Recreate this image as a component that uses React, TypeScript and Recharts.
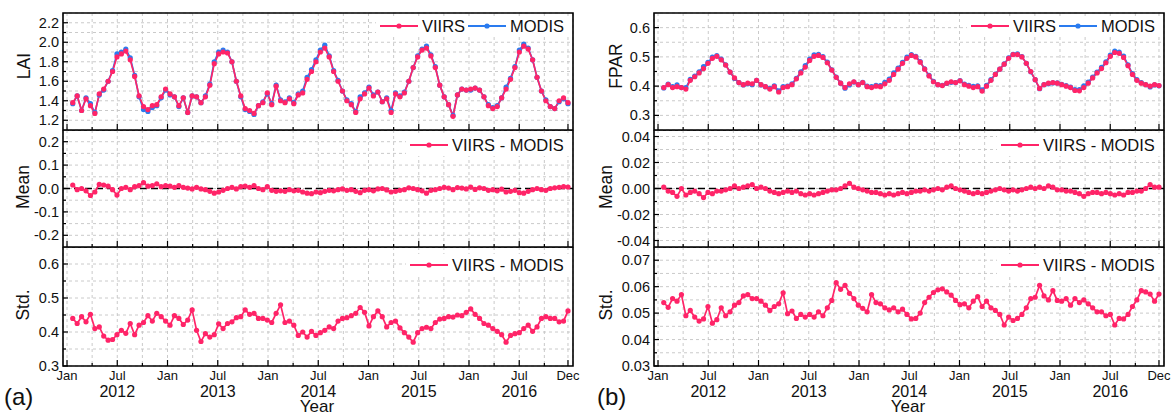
import React from 'react';
import { LineChart, Line, XAxis, YAxis, CartesianGrid, ReferenceLine, ReferenceArea } from 'recharts';

// ---------------- data (16-day steps, from late Jan 2012 to Dec 2016) ----------------
const LAI_VIIRS = [
  1.38, 1.45, 1.30, 1.42, 1.35, 1.27, 1.47, 1.52, 1.60, 1.70,
  1.85, 1.88, 1.91, 1.82, 1.65, 1.45, 1.34, 1.31, 1.35, 1.36,
  1.44, 1.52, 1.47, 1.44, 1.35, 1.43, 1.28, 1.45, 1.44, 1.38,
  1.44, 1.56, 1.78, 1.88, 1.90, 1.89, 1.80, 1.60, 1.45, 1.32,
  1.30, 1.27, 1.35, 1.38, 1.48, 1.36, 1.55, 1.40, 1.38, 1.42,
  1.37, 1.46, 1.48, 1.62, 1.70, 1.80, 1.90, 1.94, 1.85, 1.70,
  1.60, 1.50, 1.40, 1.36, 1.28, 1.42, 1.47, 1.53, 1.45, 1.49,
  1.39, 1.42, 1.28, 1.47, 1.44, 1.48, 1.60, 1.74, 1.85, 1.92,
  1.94, 1.86, 1.74, 1.56, 1.44, 1.36, 1.24, 1.46, 1.52, 1.51,
  1.52, 1.53, 1.51, 1.44, 1.35, 1.32, 1.34, 1.43, 1.52, 1.62,
  1.74, 1.90, 1.96, 1.93, 1.82, 1.64, 1.50, 1.40, 1.34, 1.32,
  1.40, 1.43, 1.38,
];
const LAI_MODIS = [
  1.37, 1.45, 1.30, 1.43, 1.37, 1.28, 1.46, 1.51, 1.60, 1.71,
  1.88, 1.90, 1.93, 1.84, 1.66, 1.44, 1.31, 1.29, 1.33, 1.35,
  1.43, 1.51, 1.46, 1.44, 1.34, 1.43, 1.28, 1.45, 1.44, 1.38,
  1.45, 1.57, 1.80, 1.90, 1.92, 1.90, 1.80, 1.60, 1.44, 1.31,
  1.29, 1.26, 1.35, 1.39, 1.47, 1.37, 1.56, 1.41, 1.39, 1.43,
  1.38, 1.47, 1.50, 1.64, 1.72, 1.82, 1.92, 1.97, 1.86, 1.71,
  1.61, 1.50, 1.41, 1.37, 1.29, 1.44, 1.48, 1.54, 1.46, 1.49,
  1.39, 1.43, 1.30, 1.48, 1.45, 1.49, 1.60, 1.74, 1.86, 1.93,
  1.96, 1.87, 1.75, 1.56, 1.44, 1.36, 1.25, 1.46, 1.52, 1.51,
  1.51, 1.53, 1.51, 1.44, 1.36, 1.33, 1.35, 1.43, 1.54, 1.63,
  1.75, 1.92, 1.98, 1.94, 1.82, 1.64, 1.50, 1.41, 1.34, 1.32,
  1.39, 1.42, 1.37,
];
const LAI_MEAN = [
  0.015, -0.005, 0.0, -0.01, -0.03, -0.015, 0.018, 0.015, 0.01, -0.005,
  -0.028, 0.0, 0.005, -0.005, 0.008, 0.012, 0.025, 0.01, 0.012, 0.02,
  0.008, 0.012, 0.01, 0.005, 0.012, 0.005, 0.002, -0.002, 0.005, -0.002,
  -0.005, -0.012, -0.02, -0.015, -0.008, 0.0, 0.005, -0.002, 0.008, 0.01,
  0.005, 0.012, 0.0, -0.005, 0.008, -0.008, -0.012, -0.01, -0.012, -0.005,
  -0.01, -0.008, -0.015, -0.02, -0.022, -0.015, -0.018, -0.012, -0.008, -0.01,
  -0.005, -0.002, -0.008, -0.005, -0.012, -0.018, -0.008, -0.005, -0.01, -0.002,
  0.0, -0.006, -0.015, -0.012, -0.008, -0.005, 0.003, 0.0, -0.005, -0.01,
  -0.02, -0.008, -0.005, 0.0, 0.005, 0.002, -0.005, 0.004, 0.002, -0.002,
  0.006, -0.004, 0.003, 0.0, -0.008, -0.005, -0.01, -0.003, -0.015, -0.012,
  -0.008, -0.018, -0.02, -0.012, -0.005, 0.0, -0.005, -0.008, 0.0, 0.003,
  0.005, 0.008, 0.006,
];
const LAI_STD = [
  0.44, 0.425, 0.445, 0.43, 0.452, 0.41, 0.415, 0.388, 0.376, 0.378,
  0.392, 0.405, 0.396, 0.425, 0.392, 0.42, 0.428, 0.448, 0.432, 0.455,
  0.445, 0.432, 0.42, 0.448, 0.44, 0.422, 0.435, 0.465, 0.405, 0.372,
  0.395, 0.385, 0.392, 0.424, 0.41, 0.425, 0.43, 0.442, 0.445, 0.465,
  0.452, 0.455, 0.44, 0.44, 0.435, 0.428, 0.455, 0.48, 0.428, 0.432,
  0.42, 0.39, 0.4, 0.385, 0.402, 0.39, 0.398, 0.405, 0.415, 0.41,
  0.432, 0.44, 0.442, 0.448, 0.455, 0.472, 0.458, 0.418, 0.445, 0.462,
  0.445, 0.415, 0.428, 0.432, 0.412, 0.398, 0.385, 0.37, 0.398, 0.41,
  0.414, 0.41, 0.428, 0.438, 0.44, 0.445, 0.444, 0.45, 0.448, 0.458,
  0.468, 0.452, 0.44, 0.425, 0.42, 0.41, 0.402, 0.392, 0.37, 0.39,
  0.395, 0.398, 0.41, 0.42, 0.402, 0.415, 0.44, 0.445, 0.44, 0.44,
  0.43, 0.432, 0.462,
];
const FPAR_VIIRS = [
  0.395, 0.405, 0.395, 0.398, 0.395, 0.39, 0.42, 0.432, 0.445, 0.46,
  0.478, 0.495, 0.502, 0.49, 0.472, 0.448, 0.428, 0.412, 0.405, 0.41,
  0.408, 0.42, 0.405, 0.398, 0.39, 0.398, 0.38, 0.395, 0.398, 0.405,
  0.425, 0.445, 0.465, 0.488, 0.502, 0.505, 0.498, 0.48, 0.455, 0.43,
  0.41, 0.395, 0.408, 0.415, 0.405, 0.412, 0.398, 0.395, 0.4, 0.398,
  0.408, 0.42, 0.44, 0.458, 0.478, 0.495, 0.505, 0.5, 0.482, 0.458,
  0.435, 0.415, 0.405, 0.402, 0.41, 0.415, 0.412, 0.418, 0.405, 0.4,
  0.395, 0.398, 0.383, 0.4, 0.42, 0.44, 0.458, 0.475, 0.495, 0.508,
  0.508, 0.5, 0.478, 0.45, 0.422, 0.392, 0.405, 0.41, 0.412, 0.41,
  0.405, 0.4, 0.395, 0.385, 0.384, 0.395, 0.41, 0.428, 0.445, 0.46,
  0.48, 0.502, 0.515, 0.512, 0.498, 0.47, 0.44, 0.42, 0.41, 0.405,
  0.4, 0.405, 0.402,
];
const FPAR_MODIS = [
  0.394, 0.407, 0.398, 0.404, 0.395, 0.395, 0.423, 0.434, 0.449, 0.467,
  0.481, 0.499, 0.504, 0.492, 0.473, 0.448, 0.426, 0.412, 0.404, 0.408,
  0.405, 0.42, 0.404, 0.398, 0.392, 0.401, 0.384, 0.398, 0.4, 0.408,
  0.427, 0.449, 0.47, 0.492, 0.507, 0.509, 0.501, 0.482, 0.456, 0.431,
  0.41, 0.393, 0.404, 0.414, 0.405, 0.413, 0.4, 0.398, 0.403, 0.402,
  0.413, 0.424, 0.445, 0.462, 0.481, 0.499, 0.508, 0.502, 0.484, 0.459,
  0.437, 0.416, 0.405, 0.403, 0.409, 0.413, 0.412, 0.419, 0.407, 0.403,
  0.399, 0.401, 0.387, 0.403, 0.422, 0.441, 0.458, 0.476, 0.497, 0.509,
  0.51, 0.501, 0.478, 0.449, 0.422, 0.391, 0.405, 0.408, 0.411, 0.411,
  0.406, 0.402, 0.397, 0.388, 0.388, 0.401, 0.414, 0.431, 0.448, 0.464,
  0.483, 0.506, 0.52, 0.516, 0.503, 0.473, 0.443, 0.422, 0.412, 0.405,
  0.397, 0.404, 0.401,
];
const FPAR_MEAN = [
  0.001, -0.002, -0.003, -0.006, 0.0, -0.005, -0.003, -0.002, -0.004, -0.007,
  -0.003, -0.004, -0.002, -0.002, -0.001, 0.0, 0.002, 0.0, 0.001, 0.002,
  0.003, 0.0, 0.001, 0.0, -0.002, -0.003, -0.004, -0.003, -0.002, -0.003,
  -0.002, -0.004, -0.005, -0.004, -0.005, -0.004, -0.003, -0.002, -0.001, -0.001,
  0.0, 0.002, 0.004, 0.001, 0.0, -0.001, -0.002, -0.003, -0.003, -0.004,
  -0.005, -0.004, -0.005, -0.004, -0.003, -0.004, -0.003, -0.002, -0.002, -0.001,
  -0.002, -0.001, 0.0, -0.001, 0.001, 0.002, 0.0, -0.001, -0.002, -0.003,
  -0.004, -0.003, -0.004, -0.003, -0.002, -0.001, 0.0, -0.001, -0.002, -0.001,
  -0.002, -0.001, 0.0, 0.001, 0.0, 0.001, 0.0, 0.002, 0.001, -0.001,
  -0.001, -0.002, -0.002, -0.003, -0.004, -0.006, -0.004, -0.003, -0.003, -0.004,
  -0.003, -0.004, -0.005, -0.004, -0.005, -0.003, -0.003, -0.002, -0.002, 0.0,
  0.003, 0.001, 0.001,
];
const FPAR_STD = [
  0.054, 0.0522, 0.0555, 0.0545, 0.057, 0.049, 0.051, 0.0485, 0.047, 0.0478,
  0.0525, 0.0462, 0.0475, 0.052, 0.049, 0.0505, 0.053, 0.054, 0.0565, 0.057,
  0.0555, 0.0555, 0.0545, 0.053, 0.051, 0.0525, 0.0535, 0.0577, 0.0498, 0.0508,
  0.048, 0.0495, 0.0485, 0.0495, 0.0485, 0.0505, 0.049, 0.052, 0.0548, 0.0615,
  0.059, 0.0605, 0.0575, 0.0555, 0.053, 0.0518, 0.0505, 0.057, 0.054, 0.0535,
  0.052, 0.0512, 0.052, 0.0505, 0.0515, 0.0495, 0.0478, 0.048, 0.05, 0.054,
  0.056, 0.0578, 0.0588, 0.0592, 0.058, 0.0568, 0.0548, 0.0532, 0.0535, 0.052,
  0.0545, 0.0562, 0.0525, 0.0545, 0.052, 0.051, 0.0495, 0.0455, 0.0485, 0.0472,
  0.048, 0.0495, 0.052, 0.0555, 0.056, 0.0605, 0.0565, 0.055, 0.0585, 0.0548,
  0.0545, 0.0555, 0.053, 0.0555, 0.054, 0.055, 0.0535, 0.052, 0.0505, 0.0505,
  0.049, 0.0495, 0.0455, 0.048, 0.0478, 0.0495, 0.0525, 0.055, 0.0585, 0.058,
  0.0572, 0.0545, 0.0572,
];

// time axis (decimal year), one composite every ~16 days
const START_YEAR = 2012.057;
const STEP_YEAR = 0.044;
const DATES = LAI_VIIRS.map((_, i) => START_YEAR + i * STEP_YEAR);

const X_TICKS = [2012, 2012.25, 2012.5, 2012.75, 2013, 2013.25, 2013.5, 2013.75, 2014, 2014.25, 2014.5, 2014.75,
  2015, 2015.25, 2015.5, 2015.75, 2016, 2016.25, 2016.5, 2016.75, 2016.985];
const X_LABELS = ['Jan', '', 'Jul', '', 'Jan', '', 'Jul', '', 'Jan', '', 'Jul', '', 'Jan', '', 'Jul', '', 'Jan', '', 'Jul', '', 'Dec'];
const YEAR_LABELS = ['', '', '2012', '', '', '', '2013', '', '', '', '2014', '', '', '', '2015', '', '', '', '2016', '', ''];
const X_DOMAIN: [number, number] = [2011.96, 2017.035];

const LAI_TICKS = [1.2, 1.3, 1.4, 1.5, 1.6, 1.7, 1.8, 1.9, 2.0, 2.1, 2.2];
const LAI_LABELS = ['1.2', '', '1.4', '', '1.6', '', '1.8', '', '2.0', '', '2.2'];
const LAI_MEAN_TICKS = [-0.2, -0.15, -0.1, -0.05, 0, 0.05, 0.1, 0.15, 0.2];
const LAI_MEAN_LABELS = ['-0.2', '', '-0.1', '', '0.0', '', '0.1', '', '0.2'];
const LAI_STD_TICKS = [0.3, 0.35, 0.4, 0.45, 0.5, 0.55, 0.6];
const LAI_STD_LABELS = ['0.3', '', '0.4', '', '0.5', '', '0.6'];
const FPAR_TICKS = [0.3, 0.35, 0.4, 0.45, 0.5, 0.55, 0.6];
const FPAR_LABELS = ['0.3', '', '0.4', '', '0.5', '', '0.6'];
const FPAR_MEAN_TICKS = [-0.04, -0.03, -0.02, -0.01, 0, 0.01, 0.02, 0.03, 0.04];
const FPAR_MEAN_LABELS = ['-0.04', '', '-0.02', '', '0.00', '', '0.02', '', '0.04'];
const FPAR_STD_TICKS = [0.03, 0.035, 0.04, 0.045, 0.05, 0.055, 0.06, 0.065, 0.07];
const FPAR_STD_LABELS = ['0.03', '', '0.04', '', '0.05', '', '0.06', '', '0.07'];

// ---------------- styling ----------------
const PINK = '#FF2468';
const BLUE = '#2A7BEF';
const FONT = '"Liberation Sans", Arial, Helvetica, sans-serif';
const GRID = '#c4c4c4';

const CHART_W = 584;
const PLOT_L = 63;
const MARGIN_R = CHART_W - PLOT_L - 510;

const findIdx = (arr: number[], v: number) => arr.findIndex((a) => Math.abs(a - v) < 1e-7);

const makeYTick = (ticks: number[], labels: string[]) => (props: any) => {
  const { y, payload } = props;
  const i = findIdx(ticks, payload.value);
  const lab = i >= 0 ? labels[i] : '';
  return (
    <g>
      <line x1={PLOT_L} x2={PLOT_L + (lab ? 5 : 3)} y1={y} y2={y} stroke="#000" strokeWidth={1.2} />
      {lab ? (
        <text x={PLOT_L - 4} y={y + 5} textAnchor="end" fontSize={14.5} fontFamily={FONT} fill="#111">
          {lab}
        </text>
      ) : null}
    </g>
  );
};

const makeXTick = (plotBottom: number, showLabels: boolean) => (props: any) => {
  const { x, payload } = props;
  const i = findIdx(X_TICKS, payload.value);
  const lab = i >= 0 ? X_LABELS[i] : '';
  const yr = i >= 0 ? YEAR_LABELS[i] : '';
  return (
    <g>
      <line x1={x} x2={x} y1={plotBottom} y2={plotBottom - (lab ? 6 : 3)} stroke="#000" strokeWidth={1.2} />
      {showLabels && lab ? (
        <text x={x} y={plotBottom + 13.5} textAnchor="middle" fontSize={13} fontFamily={FONT} fill="#111">
          {lab}
        </text>
      ) : null}
      {showLabels && yr ? (
        <text x={x} y={plotBottom + 30.5} textAnchor="middle" fontSize={16} fontFamily={FONT} fill="#111">
          {yr}
        </text>
      ) : null}
    </g>
  );
};

type SubProps = {
  left: number;
  top: number;
  plotH: number;
  mTop: number;
  xAxisH: number;
  rows: any[];
  yDomain: [number, number];
  yTicks: number[];
  yLabels: string[];
  showModis?: boolean;
  zeroLine?: boolean;
  showX?: boolean;
};

const Sub = ({ left, top, plotH, mTop, xAxisH, rows, yDomain, yTicks, yLabels, showModis, zeroLine, showX }: SubProps) => {
  const height = mTop + plotH + xAxisH;
  const plotBottom = mTop + plotH;
  return (
    <div style={{ position: 'absolute', left, top, width: CHART_W, height }}>
      <LineChart width={CHART_W} height={height} data={rows} margin={{ top: mTop, bottom: 0, left: 0, right: MARGIN_R }}>
        <CartesianGrid stroke={GRID} strokeDasharray="3 3" strokeWidth={0.9} />
        <XAxis
          dataKey="t"
          type="number"
          domain={X_DOMAIN}
          allowDataOverflow
          ticks={X_TICKS}
          interval={0}
          height={xAxisH}
          axisLine={false}
          tickLine={false}
          tick={makeXTick(plotBottom, !!showX)}
        />
        <YAxis
          type="number"
          domain={yDomain}
          allowDataOverflow
          ticks={yTicks}
          interval={0}
          width={PLOT_L}
          axisLine={false}
          tickLine={false}
          tick={makeYTick(yTicks, yLabels)}
        />
        {zeroLine ? <ReferenceLine y={0} stroke="#000" strokeDasharray="7 4" strokeWidth={1.3} /> : null}
        {showModis ? (
          <Line
            dataKey="m"
            stroke={BLUE}
            strokeWidth={1.7}
            dot={{ r: 2.6, fill: BLUE, stroke: BLUE, strokeWidth: 0 }}
            activeDot={false}
            isAnimationActive={false}
          />
        ) : null}
        <Line
          dataKey="v"
          stroke={PINK}
          strokeWidth={1.7}
          dot={{ r: 2.6, fill: PINK, stroke: PINK, strokeWidth: 0 }}
          activeDot={false}
          isAnimationActive={false}
        />
        <ReferenceArea x1={X_DOMAIN[0]} x2={X_DOMAIN[1]} y1={yDomain[0]} y2={yDomain[1]} fill="none" stroke="#000" strokeWidth={1.6} />
      </LineChart>
    </div>
  );
};

const LegendItem = ({ x, y, color, text }: { x: number; y: number; color: string; text: string }) => (
  <g>
    <line x1={x} x2={x + 38} y1={y} y2={y} stroke={color} strokeWidth={1.8} />
    <circle cx={x + 19} cy={y} r={2.6} fill={color} />
    <text x={x + 42} y={y + 6} fontSize={16.5} fontFamily={FONT} fill="#111">
      {text}
    </text>
  </g>
);

const PanelOverlay = ({ dx, letter, titles, titleX }: { dx: number; letter: string; titles: string[]; titleX: number[] }) => (
  <g>
    <rect x={376 + dx} y={16} width={195} height={21} fill="#fff" />
    <LegendItem x={380 + dx} y={26} color={PINK} text="VIIRS" />
    <LegendItem x={468 + dx} y={26} color={BLUE} text="MODIS" />
    <rect x={406 + dx} y={134} width={165} height={22} fill="#fff" />
    <LegendItem x={410 + dx} y={145} color={PINK} text="VIIRS - MODIS" />
    <rect x={406 + dx} y={254} width={165} height={22} fill="#fff" />
    <LegendItem x={410 + dx} y={265} color={PINK} text="VIIRS - MODIS" />
    <text transform={`translate(${titleX[0] + dx},66) rotate(-90)`} textAnchor="middle" fontSize={17.5} fontFamily={FONT} fill="#111" dy={6}>
      {titles[0]}
    </text>
    <text transform={`translate(${titleX[1] + dx},187) rotate(-90)`} textAnchor="middle" fontSize={17.5} fontFamily={FONT} fill="#111" dy={6}>
      {titles[1]}
    </text>
    <text transform={`translate(${titleX[2] + dx},305) rotate(-90)`} textAnchor="middle" fontSize={17.5} fontFamily={FONT} fill="#111" dy={6}>
      {titles[2]}
    </text>
    <text x={317 + dx} y={412} textAnchor="middle" fontSize={17} fontFamily={FONT} fill="#111">
      Year
    </text>
    <text x={letter === '(a)' ? 4 + dx : 6 + dx} y={405} fontSize={24} fontFamily={FONT} fill="#111">
      {letter}
    </text>
  </g>
);

export default function App() {
  const laiRows = DATES.map((t, i) => ({ t, v: LAI_VIIRS[i], m: LAI_MODIS[i] }));
  const laiMeanRows = DATES.map((t, i) => ({ t, v: LAI_MEAN[i] }));
  const laiStdRows = DATES.map((t, i) => ({ t, v: LAI_STD[i] }));
  const fparRows = DATES.map((t, i) => ({ t, v: FPAR_VIIRS[i], m: FPAR_MODIS[i] }));
  const fparMeanRows = DATES.map((t, i) => ({ t, v: FPAR_MEAN[i] }));
  const fparStdRows = DATES.map((t, i) => ({ t, v: FPAR_STD[i] }));
  const B = 591;
  return (
    <div style={{ position: 'fixed', left: 0, top: 0, width: 1175, height: 415, background: '#fff', overflow: 'hidden' }}>
      <Sub left={0} top={0} plotH={117} mTop={13} xAxisH={2} rows={laiRows} yDomain={[1.1, 2.3]} yTicks={LAI_TICKS} yLabels={LAI_LABELS} showModis />
      <Sub left={0} top={130} plotH={117} mTop={0} xAxisH={2} rows={laiMeanRows} yDomain={[-0.25, 0.25]} yTicks={LAI_MEAN_TICKS} yLabels={LAI_MEAN_LABELS} zeroLine />
      <Sub left={0} top={247} plotH={119} mTop={0} xAxisH={49} rows={laiStdRows} yDomain={[0.3, 0.65]} yTicks={LAI_STD_TICKS} yLabels={LAI_STD_LABELS} showX />

      <Sub left={B} top={0} plotH={117} mTop={13} xAxisH={2} rows={fparRows} yDomain={[0.25, 0.65]} yTicks={FPAR_TICKS} yLabels={FPAR_LABELS} showModis />
      <Sub left={B} top={130} plotH={117} mTop={0} xAxisH={2} rows={fparMeanRows} yDomain={[-0.045, 0.045]} yTicks={FPAR_MEAN_TICKS} yLabels={FPAR_MEAN_LABELS} zeroLine />
      <Sub left={B} top={247} plotH={119} mTop={0} xAxisH={49} rows={fparStdRows} yDomain={[0.03, 0.075]} yTicks={FPAR_STD_TICKS} yLabels={FPAR_STD_LABELS} showX />

      <svg width={1175} height={415} style={{ position: 'absolute', left: 0, top: 0, pointerEvents: 'none' }}>
        <PanelOverlay dx={0} letter="(a)" titles={['LAI', 'Mean', 'Std.']} titleX={[24, 23, 23]} />
        <PanelOverlay dx={B} letter="(b)" titles={['FPAR', 'Mean', 'Std.']} titleX={[25, 15, 15]} />
      </svg>
    </div>
  );
}
